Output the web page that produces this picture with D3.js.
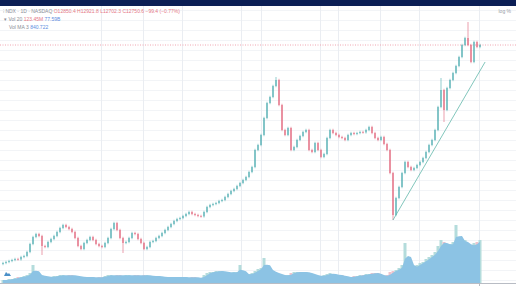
<!DOCTYPE html>
<html>
<head>
<meta charset="utf-8">
<script src="https://cdn.jsdelivr.net/npm/d3@7"></script>
<style>
  html, body { margin: 0; padding: 0; background: #fff; }
  svg { display: block; font-family: "Liberation Sans", Arial, sans-serif; }
</style>
</head>
<body>
<svg id="chart" width="516" height="286"></svg>
<script>
// ---- data ----
const closes = [
  1850, 1900, 1950, 2000, 2050, 2030, 2150, 2200, 2400, 2800,
  3150, 3300, 3200, 2700, 2650, 2900, 3050, 3200, 3400, 3600,
  3750, 3650, 3550, 3400, 3100, 2700, 2550, 2850, 3000, 3150,
  3000, 2800, 2700, 2650, 2850, 3100, 3550, 3850, 3500, 3100,
  2850, 2900, 3100, 3350, 3300, 3050, 2850, 2550, 2650, 2900,
  2950, 3100, 3200, 3350, 3500, 3650, 3800, 3950, 4050, 4100,
  4200, 4300, 4400, 4300, 4250, 4200, 4180, 4400, 4650, 4750,
  4800, 4850, 4950, 5000, 5150, 5300, 5450, 5550, 5700, 5850,
  6000, 6150, 6400, 6650, 7500, 7750, 8250, 9100, 9850, 10150,
  10700, 11000, 9750, 8500, 8250, 8600, 7500, 7650, 8000, 8200,
  8400, 8500, 7500, 7400, 7850, 7500, 7150, 7300, 8100, 8500,
  8350, 8250, 8150, 8100, 8000, 8250, 8350, 8300, 8350, 8400,
  8380, 8500, 8650, 8350, 8100, 8000, 8150, 7800, 7500, 6350,
  4250, 5100, 5650, 6350, 6900, 6650, 6500, 6600, 6750, 6900,
  7100, 7400, 7750, 8000, 8500, 9650, 10500, 9500, 10600, 11000,
  11350, 11700, 12150, 12750, 13100, 12750, 11900, 12900, 12650, 12750
];
const firstOpen = 1800;

// volume, millions
const volumes = [
  3, 3, 4, 4, 5, 6, 6, 7, 8, 10,
  18, 9, 8, 7, 7, 6, 6, 7, 7, 8,
  8, 7, 8, 8, 7, 7, 6, 6, 6, 6,
  6, 5, 6, 6, 7, 8, 8, 7, 8, 8,
  7, 8, 8, 7, 8, 8, 7, 8, 8, 7,
  7, 7, 7, 6, 6, 6, 6, 6, 6, 6,
  6, 6, 5, 6, 6, 5, 5, 8, 10, 11,
  11, 12, 12, 12, 11, 11, 10, 11, 11, 18,
  9, 8, 9, 10, 12, 14, 15, 25, 15, 13,
  11, 10, 9, 8, 7, 8, 10, 11, 11, 11,
  11, 11, 10, 9, 8, 7, 7, 8, 9, 10,
  9, 8, 8, 8, 6, 6, 6, 7, 7, 8,
  8, 9, 9, 10, 10, 10, 8, 6, 8, 11,
  12, 13, 15, 18, 40, 23, 15, 16, 18, 20,
  21, 24, 26, 28, 31, 37, 43, 41, 36, 39,
  41, 58, 41, 42, 43, 38, 35, 40, 41, 43
];

// long wicks that stand out
const wickHighs = [ { i: 91, v: 11150 }, { i: 146, v: 11100 }, { i: 155, v: 13900 } ];
const wickLows  = [ { i: 13, v: 2250 }, { i: 40, v: 2350 }, { i: 130, v: 4000 }, { i: 147, v: 8900 } ];

// trend line drawn on the chart
const trendLine = [ { i: 130, v: 4000 }, { i: 160.7, v: 11900 } ];

// vertical grid (bar index)
const xGridIdx = [32.7, 46.7, 59.7, 79.3, 86, 105.7, 111.7, 125.7, 138.7, 158.7];

// legend texts
const legendTitle = '⁝ NDX · 1D · NASDAQ';
const legendOHLC = 'O12850.4 H12921.8 L12702.3 C12750.6 −99.4 (−0.77%)';
const legendVolLabel = '▾ Vol 20';
const legendVolA = '123.45M';
const legendVolB = '77.59B';
const legendMALabel = 'Vol MA 3';
const legendMAValue = '840.722';

// ---- layout ----
const W = 516, H = 286;
const plotTop = 6, plotBottom = 283;
const svg = d3.select('#chart');

const x = d3.scaleLinear().domain([0, closes.length - 1]).range([3, 480]);
const y = d3.scaleLinear().domain([0, 15000]).range([300, 0]);
const yVol = d3.scaleLinear().domain([0, 100]).range([plotBottom, plotBottom - 100]);

const upCol = '#45a9ad';
const downCol = '#e05a72';

// candles
const bars = closes.map((c, i) => {
  const o = i === 0 ? firstOpen : closes[i - 1];
  let hi = Math.max(o, c) + 60;
  let lo = Math.min(o, c) - 60;
  const wh = wickHighs.find(d => d.i === i);
  const wl = wickLows.find(d => d.i === i);
  if (wh) hi = wh.v;
  if (wl) lo = wl.v;
  return { i, o, c, hi, lo, up: c >= o, vol: volumes[i] };
});

// volume MA (3)
const volMA = volumes.map((v, i) => d3.mean(volumes.slice(Math.max(0, i - 2), i + 1)));

// background
svg.append('rect').attr('width', W).attr('height', H).attr('fill', '#fff');

// grid
const gridG = svg.append('g');
gridG.selectAll('line.h')
  .data(d3.range(1000, 15000, 500))
  .join('line')
  .attr('class', 'h')
  .attr('x1', 0).attr('x2', W)
  .attr('y1', d => Math.round(y(d)) + 0.5).attr('y2', d => Math.round(y(d)) + 0.5)
  .attr('stroke', '#f2f4f7').attr('stroke-width', 1);
gridG.selectAll('line.v')
  .data(xGridIdx)
  .join('line')
  .attr('class', 'v')
  .attr('x1', d => Math.round(x(d)) + 0.5).attr('x2', d => Math.round(x(d)) + 0.5)
  .attr('y1', plotTop).attr('y2', plotBottom)
  .attr('stroke', '#eaedf2').attr('stroke-width', 1);

// clip
svg.append('clipPath').attr('id', 'plot')
  .append('rect').attr('x', 0).attr('y', plotTop).attr('width', W).attr('height', plotBottom - plotTop);
const plot = svg.append('g').attr('clip-path', 'url(#plot)');

// volume bars
plot.append('g').selectAll('rect')
  .data(bars)
  .join('rect')
  .attr('x', d => x(d.i) - 1.5)
  .attr('width', 3)
  .attr('y', d => yVol(d.vol))
  .attr('height', d => plotBottom - yVol(d.vol))
  .attr('fill', d => d.up ? '#b4dcdc' : '#f0c3cc');

// volume MA area
plot.append('path')
  .datum(volMA)
  .attr('d', d3.area()
    .x((d, i) => x(i))
    .y0(plotBottom)
    .y1(d => yVol(d)))
  .attr('fill', '#8cc3e4');

// price line (last close)
const lastY = y(closes[closes.length - 1]);
plot.append('line')
  .attr('x1', 0).attr('x2', W)
  .attr('y1', lastY).attr('y2', lastY)
  .attr('stroke', '#f0a5b0').attr('stroke-width', 1).attr('stroke-dasharray', '1,1.5');

// candles
const cg = plot.append('g').attr('opacity', 0.82);
cg.selectAll('line')
  .data(bars)
  .join('line')
  .attr('x1', d => x(d.i)).attr('x2', d => x(d.i))
  .attr('y1', d => y(d.hi)).attr('y2', d => y(d.lo))
  .attr('stroke', d => d.up ? upCol : downCol)
  .attr('stroke-width', 0.7);
cg.selectAll('rect')
  .data(bars)
  .join('rect')
  .attr('x', d => x(d.i) - 0.7)
  .attr('width', 1.4)
  .attr('y', d => y(Math.max(d.o, d.c)))
  .attr('height', d => Math.max(0.8, Math.abs(y(d.o) - y(d.c))))
  .attr('fill', d => d.up ? upCol : downCol);

// trend line
plot.append('line')
  .attr('x1', x(trendLine[0].i)).attr('y1', y(trendLine[0].v))
  .attr('x2', x(trendLine[1].i)).attr('y2', y(trendLine[1].v))
  .attr('stroke', '#62b8ab').attr('stroke-width', 0.8);

// bottom axis line
svg.append('line')
  .attr('x1', 0).attr('x2', W)
  .attr('y1', plotBottom + 0.5).attr('y2', plotBottom + 0.5)
  .attr('stroke', '#b8bcc4').attr('stroke-width', 1);
const lastGridX = Math.round(x(xGridIdx[xGridIdx.length - 1])) + 0.5;
svg.append('line')
  .attr('x1', lastGridX).attr('x2', lastGridX)
  .attr('y1', plotBottom).attr('y2', plotBottom + 3)
  .attr('stroke', '#b8bcc4');

// small logo mark
svg.append('path')
  .attr('d', 'M4,276 L6,272 L8,274 L9,273 L11,276 Z')
  .attr('fill', '#4a90c8');

// top navy bar
svg.append('rect').attr('x', 0).attr('y', 0).attr('width', W).attr('height', plotTop)
  .attr('fill', '#0c1f55');

// legend
const lg = svg.append('g').style('font-size', '5px');
const t1 = lg.append('text').attr('x', 3).attr('y', 13);
t1.append('tspan').attr('fill', '#8a8d96').text(legendTitle + ' ');
t1.append('tspan').attr('fill', '#e57886').text(legendOHLC);
const t2 = lg.append('text').attr('x', 4).attr('y', 21);
t2.append('tspan').attr('fill', '#8a8d96').text(legendVolLabel + ' ');
t2.append('tspan').attr('fill', '#e57886').text(legendVolA + ' ');
t2.append('tspan').attr('fill', '#5d8de0').text(legendVolB);
const t3 = lg.append('text').attr('x', 9).attr('y', 29);
t3.append('tspan').attr('fill', '#8a8d96').text(legendMALabel + ' ');
t3.append('tspan').attr('fill', '#5d8de0').text(legendMAValue);

lg.append('text').attr('x', 511).attr('y', 13).attr('text-anchor', 'end')
  .attr('fill', '#9a9da6').text('log %');
</script>
</body>
</html>
